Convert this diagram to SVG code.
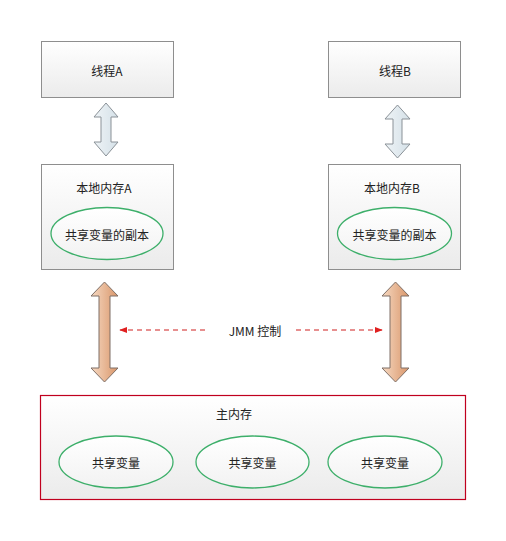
<svg xmlns="http://www.w3.org/2000/svg" width="506" height="541" viewBox="0 0 506 541">
<defs>
<linearGradient id="boxg" x1="0" y1="0" x2="0" y2="1"><stop offset="0" stop-color="#ffffff"/><stop offset="1" stop-color="#ebebeb"/></linearGradient>
<linearGradient id="bluearr" x1="0" y1="0" x2="1" y2="0"><stop offset="0" stop-color="#eef3f6"/><stop offset="1" stop-color="#d5e1e8"/></linearGradient>
<linearGradient id="orarr" x1="0" y1="0" x2="1" y2="0"><stop offset="0" stop-color="#f6d9c2"/><stop offset="1" stop-color="#d9966a"/></linearGradient>
<linearGradient id="ellg" x1="0" y1="0" x2="0" y2="1"><stop offset="0" stop-color="#ffffff"/><stop offset="1" stop-color="#f2f2f2"/></linearGradient>
<marker id="dh" viewBox="0 0 10 10" refX="9" refY="5" markerWidth="8" markerHeight="8" markerUnits="userSpaceOnUse" orient="auto-start-reverse"><path d="M0,1 L10,5 L0,9 Z" fill="#e02020"/></marker>
</defs>
<style>
.box{fill:url(#boxg);stroke:#8e8e8e;stroke-width:1}
.main{fill:url(#boxg);stroke:#c0001e;stroke-width:1.2}
.ell{fill:url(#ellg);stroke:#3daf6a;stroke-width:1.3}
.t{font-family:"Noto Sans CJK SC","Liberation Sans",sans-serif;font-size:12px;fill:#222;text-anchor:middle;dominant-baseline:central}
.ba{fill:url(#bluearr);stroke:#8a9197;stroke-width:1}
.oa{fill:url(#orarr);stroke:#7f6f66;stroke-width:1}
.dash{stroke:#d02020;stroke-width:1.2;stroke-dasharray:5,4;fill:none}
</style>
<g id="connectors">
<path class="ba" d="M106,103 L118,117 L111,117 L111,142 L118,142 L106,156 L94,142 L101,142 L101,117 L94,117 Z"/>
<path class="ba" d="M397.5,105 L410,119 L402,119 L402,144 L410,144 L397.5,158 L385,144 L393,144 L393,119 L385,119 Z"/>
<path class="oa" d="M104.5,282 L118,296 L110,296 L110,368 L118,368 L104.5,382 L91,368 L99,368 L99,296 L91,296 Z"/>
<path class="oa" d="M395.5,282 L409,296 L401,296 L401,368 L409,368 L395.5,382 L382,368 L390,368 L390,296 L382,296 Z"/>
<line class="dash" x1="205" y1="330" x2="120" y2="330" marker-end="url(#dh)"/>
<line class="dash" x1="296" y1="330" x2="382" y2="330" marker-end="url(#dh)"/>
<text class="t" x="255" y="330">JMM 控制</text>
</g>
<g id="threadA">
<rect class="box" x="41.5" y="41.5" width="132" height="56"/>
<text class="t" x="107" y="70">线程A</text>
</g>
<g id="threadB">
<rect class="box" x="328.5" y="41.5" width="132" height="56"/>
<text class="t" x="395" y="70">线程B</text>
</g>
<g id="localA">
<rect class="box" x="41.5" y="164.5" width="132" height="105"/>
<text class="t" x="104" y="187">本地内存A</text>
<ellipse class="ell" cx="107" cy="233.5" rx="56" ry="26"/>
<text class="t" x="107" y="234">共享变量的副本</text>
</g>
<g id="localB">
<rect class="box" x="328.5" y="164.5" width="132" height="105"/>
<text class="t" x="392" y="187">本地内存B</text>
<ellipse class="ell" cx="394.5" cy="233.5" rx="57" ry="26"/>
<text class="t" x="394.5" y="234">共享变量的副本</text>
</g>
<g id="mainMemory">
<rect class="main" x="40.5" y="395.5" width="425" height="104"/>
<text class="t" x="234" y="413">主内存</text>
<g id="var1"><ellipse class="ell" cx="116" cy="462" rx="57" ry="26"/><text class="t" x="116" y="462">共享变量</text></g>
<g id="var2"><ellipse class="ell" cx="252.5" cy="462" rx="56.5" ry="26"/><text class="t" x="252.5" y="462">共享变量</text></g>
<g id="var3"><ellipse class="ell" cx="385" cy="462" rx="57" ry="26"/><text class="t" x="385" y="462">共享变量</text></g>
</g>
</svg>
